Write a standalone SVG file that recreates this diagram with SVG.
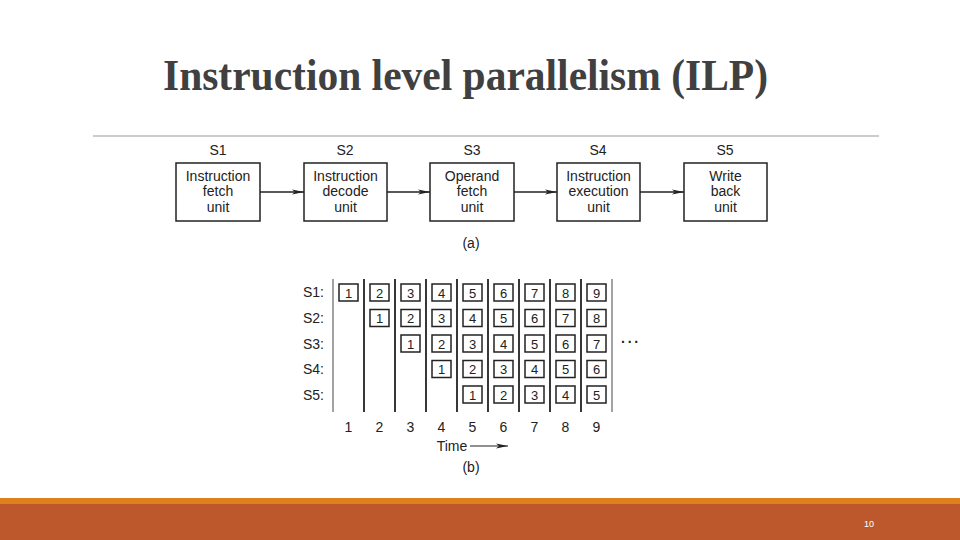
<svg xmlns="http://www.w3.org/2000/svg" width="960" height="540" viewBox="0 0 960 540">
<defs>
<marker id="ah" markerWidth="12" markerHeight="6" refX="12" refY="3" orient="auto" markerUnits="userSpaceOnUse">
<path d="M0,0.6 L12,3 L0,5.4 L3,3 Z" fill="#222"/>
</marker>
<style>
.t{font-family:"Liberation Sans",Arial,sans-serif;fill:#222;text-anchor:middle}
.bx{fill:#fff;stroke:#222;stroke-width:1.5}
.cl{fill:#fff;stroke:#222;stroke-width:1.5}
.vl{stroke:#222;stroke-width:1.8}
.vg{stroke:#999;stroke-width:1.8}
.c{font-size:14px}
.n{font-size:13px}
</style>
</defs>
<rect width="960" height="540" fill="#fff"/>
<text x="163" y="90" font-family="'Liberation Serif',serif" font-weight="bold" font-size="45" fill="#404040" textLength="605" lengthAdjust="spacingAndGlyphs">Instruction level parallelism (ILP)</text>
<line x1="93" y1="136" x2="879" y2="136" stroke="#999" stroke-width="1.2"/>

<g id="s1"><text class="t c" x="218" y="155">S1</text><rect class="bx" x="176" y="163" width="84" height="58"/><text class="t c" x="218" y="181">Instruction</text><text class="t c" x="218" y="196">fetch</text><text class="t c" x="218" y="212">unit</text></g>
<g id="s2"><text class="t c" x="345" y="155">S2</text><rect class="bx" x="304" y="163" width="83" height="58"/><text class="t c" x="345.5" y="181">Instruction</text><text class="t c" x="345.5" y="196">decode</text><text class="t c" x="345.5" y="212">unit</text></g>
<g id="s3"><text class="t c" x="472" y="155">S3</text><rect class="bx" x="430" y="163" width="84" height="58"/><text class="t c" x="472" y="181">Operand</text><text class="t c" x="472" y="196">fetch</text><text class="t c" x="472" y="212">unit</text></g>
<g id="s4"><text class="t c" x="598" y="155">S4</text><rect class="bx" x="557" y="163" width="83" height="58"/><text class="t c" x="598.5" y="181">Instruction</text><text class="t c" x="598.5" y="196">execution</text><text class="t c" x="598.5" y="212">unit</text></g>
<g id="s5"><text class="t c" x="725" y="155">S5</text><rect class="bx" x="684" y="163" width="83" height="58"/><text class="t c" x="725.5" y="181">Write</text><text class="t c" x="725.5" y="196">back</text><text class="t c" x="725.5" y="212">unit</text></g>
<g id="connectors" stroke="#222" stroke-width="1.5" fill="none">
<line x1="260" y1="192" x2="304" y2="192" marker-end="url(#ah)"/>
<line x1="387" y1="192" x2="430" y2="192" marker-end="url(#ah)"/>
<line x1="514" y1="192" x2="557" y2="192" marker-end="url(#ah)"/>
<line x1="640" y1="192" x2="684" y2="192" marker-end="url(#ah)"/>
<line x1="470" y1="446" x2="508" y2="446" stroke-width="1" marker-end="url(#ah)"/>
</g>
<text class="t c" x="471" y="248">(a)</text>

<g id="grid">
<g class="t c">
<text x="324" y="297" text-anchor="end">S1:</text>
<text x="324" y="323" text-anchor="end">S2:</text>
<text x="324" y="349" text-anchor="end">S3:</text>
<text x="324" y="374" text-anchor="end">S4:</text>
<text x="324" y="400" text-anchor="end">S5:</text>
</g>
<line class="vg" x1="333" y1="279" x2="333" y2="412"/>
<line class="vl" x1="364" y1="279" x2="364" y2="412"/>
<line class="vl" x1="395" y1="279" x2="395" y2="412"/>
<line class="vl" x1="426" y1="279" x2="426" y2="412"/>
<line class="vl" x1="457" y1="279" x2="457" y2="412"/>
<line class="vl" x1="488" y1="279" x2="488" y2="412"/>
<line class="vl" x1="519" y1="279" x2="519" y2="412"/>
<line class="vl" x1="550" y1="279" x2="550" y2="412"/>
<line class="vl" x1="581" y1="279" x2="581" y2="412"/>
<line class="vg" x1="612" y1="279" x2="612" y2="412"/>
</g>
<g id="cells">
<g transform="translate(0,284)">
<rect class="cl" x="339" y="0" width="19" height="17"/><text class="t n" x="348.5" y="13.5">1</text>
<rect class="cl" x="370" y="0" width="19" height="17"/><text class="t n" x="379.5" y="13.5">2</text>
<rect class="cl" x="401" y="0" width="19" height="17"/><text class="t n" x="410.5" y="13.5">3</text>
<rect class="cl" x="432" y="0" width="19" height="17"/><text class="t n" x="441.5" y="13.5">4</text>
<rect class="cl" x="463" y="0" width="19" height="17"/><text class="t n" x="472.5" y="13.5">5</text>
<rect class="cl" x="494" y="0" width="19" height="17"/><text class="t n" x="503.5" y="13.5">6</text>
<rect class="cl" x="525" y="0" width="19" height="17"/><text class="t n" x="534.5" y="13.5">7</text>
<rect class="cl" x="556" y="0" width="19" height="17"/><text class="t n" x="565.5" y="13.5">8</text>
<rect class="cl" x="587" y="0" width="19" height="17"/><text class="t n" x="596.5" y="13.5">9</text>
</g>
<g transform="translate(0,309.5)">
<rect class="cl" x="370" y="0" width="19" height="17"/><text class="t n" x="379.5" y="13.5">1</text>
<rect class="cl" x="401" y="0" width="19" height="17"/><text class="t n" x="410.5" y="13.5">2</text>
<rect class="cl" x="432" y="0" width="19" height="17"/><text class="t n" x="441.5" y="13.5">3</text>
<rect class="cl" x="463" y="0" width="19" height="17"/><text class="t n" x="472.5" y="13.5">4</text>
<rect class="cl" x="494" y="0" width="19" height="17"/><text class="t n" x="503.5" y="13.5">5</text>
<rect class="cl" x="525" y="0" width="19" height="17"/><text class="t n" x="534.5" y="13.5">6</text>
<rect class="cl" x="556" y="0" width="19" height="17"/><text class="t n" x="565.5" y="13.5">7</text>
<rect class="cl" x="587" y="0" width="19" height="17"/><text class="t n" x="596.5" y="13.5">8</text>
</g>
<g transform="translate(0,335)">
<rect class="cl" x="401" y="0" width="19" height="17"/><text class="t n" x="410.5" y="13.5">1</text>
<rect class="cl" x="432" y="0" width="19" height="17"/><text class="t n" x="441.5" y="13.5">2</text>
<rect class="cl" x="463" y="0" width="19" height="17"/><text class="t n" x="472.5" y="13.5">3</text>
<rect class="cl" x="494" y="0" width="19" height="17"/><text class="t n" x="503.5" y="13.5">4</text>
<rect class="cl" x="525" y="0" width="19" height="17"/><text class="t n" x="534.5" y="13.5">5</text>
<rect class="cl" x="556" y="0" width="19" height="17"/><text class="t n" x="565.5" y="13.5">6</text>
<rect class="cl" x="587" y="0" width="19" height="17"/><text class="t n" x="596.5" y="13.5">7</text>
</g>
<g transform="translate(0,360.5)">
<rect class="cl" x="432" y="0" width="19" height="17"/><text class="t n" x="441.5" y="13.5">1</text>
<rect class="cl" x="463" y="0" width="19" height="17"/><text class="t n" x="472.5" y="13.5">2</text>
<rect class="cl" x="494" y="0" width="19" height="17"/><text class="t n" x="503.5" y="13.5">3</text>
<rect class="cl" x="525" y="0" width="19" height="17"/><text class="t n" x="534.5" y="13.5">4</text>
<rect class="cl" x="556" y="0" width="19" height="17"/><text class="t n" x="565.5" y="13.5">5</text>
<rect class="cl" x="587" y="0" width="19" height="17"/><text class="t n" x="596.5" y="13.5">6</text>
</g>
<g transform="translate(0,386)">
<rect class="cl" x="463" y="0" width="19" height="17"/><text class="t n" x="472.5" y="13.5">1</text>
<rect class="cl" x="494" y="0" width="19" height="17"/><text class="t n" x="503.5" y="13.5">2</text>
<rect class="cl" x="525" y="0" width="19" height="17"/><text class="t n" x="534.5" y="13.5">3</text>
<rect class="cl" x="556" y="0" width="19" height="17"/><text class="t n" x="565.5" y="13.5">4</text>
<rect class="cl" x="587" y="0" width="19" height="17"/><text class="t n" x="596.5" y="13.5">5</text>
</g>
</g>
<text class="t c" x="631" y="347" font-weight="bold" letter-spacing="2">···</text>
<g class="t c">
<text x="348.5" y="432">1</text><text x="379.5" y="432">2</text><text x="410.5" y="432">3</text><text x="441.5" y="432">4</text><text x="472.5" y="432">5</text><text x="503.5" y="432">6</text><text x="534.5" y="432">7</text><text x="565.5" y="432">8</text><text x="596.5" y="432">9</text>
<text x="452" y="451">Time</text>
<text x="471" y="472">(b)</text>
</g>

<rect x="0" y="498" width="960" height="6" fill="#E0801C"/>
<rect x="0" y="504" width="960" height="36" fill="#BD582C"/>
<text x="869" y="527" font-family="'Liberation Sans',sans-serif" font-size="9" fill="#fff" text-anchor="middle">10</text>
</svg>
